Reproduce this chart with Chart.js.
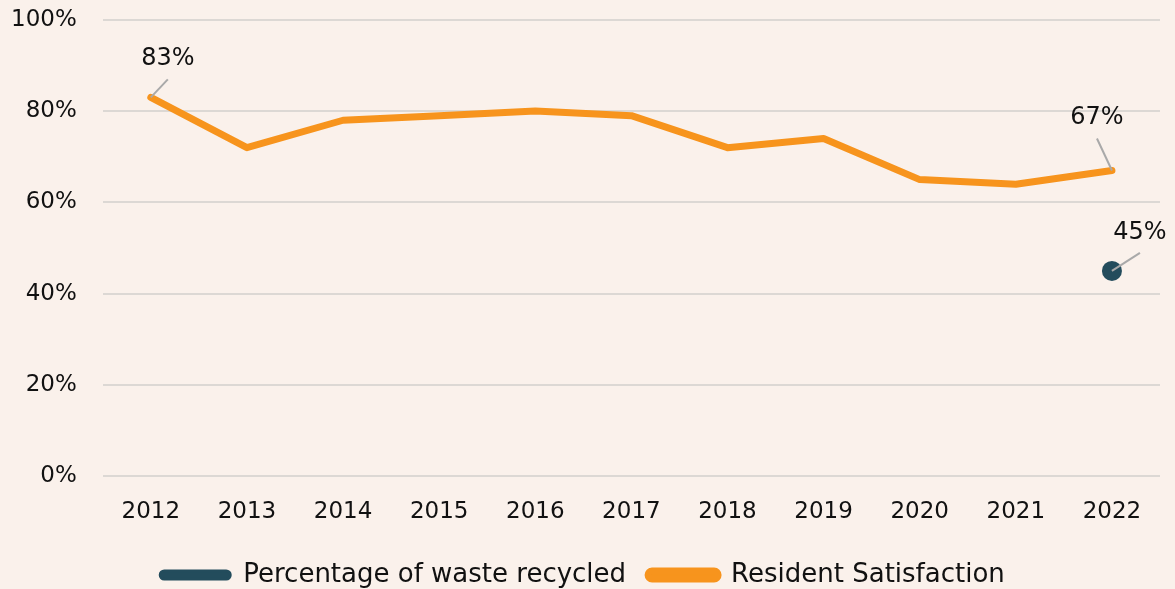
<!DOCTYPE html>
<html lang="en">
<head>
<meta charset="UTF-8">
<title>Resident Satisfaction and Recycling</title>
<style>
    html, body {
        margin: 0;
        padding: 0;
        background-color: #faf1eb;
    }
    .wrap {
        width: 1175px;
        height: 589px;
    }
</style>
</head>
<body>
<div class="wrap">
    <canvas id="chart" width="1175" height="589"></canvas>
</div>
<script src="https://cdn.jsdelivr.net/npm/chart.js"></script>
<script>
    const years = ['2012', '2013', '2014', '2015', '2016', '2017', '2018', '2019', '2020', '2021', '2022'];
    const recycled = [null, null, null, null, null, null, null, null, null, null, 45];
    const satisfaction = [83, 72, 78, 79, 80, 79, 72, 74, 65, 64, 67];
    const yTicks = [0, 20, 40, 60, 80, 100];

    const FONT = '"DejaVu Sans", sans-serif';

    // where to put a callout label: dataset index, point index, label offset
    const callouts = [
        { ds: 1, i: 0, dx: 17, dy: -39, lx: 17, ly: -18 },
        { ds: 1, i: 10, dx: -15, dy: -53, lx: -15, ly: -32 },
        { ds: 0, i: 10, dx: 28, dy: -38, lx: 28, ly: -18 }
    ];

    const calloutPlugin = {
        id: 'callouts',
        afterDatasetsDraw(chart) {
            const ctx = chart.ctx;
            ctx.save();
            callouts.forEach(c => {
                const pt = chart.getDatasetMeta(c.ds).data[c.i];
                const value = chart.data.datasets[c.ds].data[c.i];
                ctx.strokeStyle = '#a9a9a9';
                ctx.lineWidth = 2;
                ctx.beginPath();
                ctx.moveTo(pt.x, pt.y);
                ctx.lineTo(pt.x + c.lx, pt.y + c.ly);
                ctx.stroke();
                ctx.fillStyle = '#111';
                ctx.font = '24px ' + FONT;
                ctx.textAlign = 'center';
                ctx.textBaseline = 'middle';
                ctx.fillText(value + '%', pt.x + c.dx, pt.y + c.dy);
            });
            ctx.restore();
        }
    };

    new Chart(document.getElementById('chart'), {
        type: 'line',
        data: {
            labels: years,
            datasets: [{
                label: 'Percentage of waste recycled',
                data: recycled,
                borderColor: '#234c5c',
                backgroundColor: '#234c5c',
                pointRadius: 10,
                pointBackgroundColor: '#234c5c',
                pointBorderWidth: 0,
                showLine: false
            }, {
                label: 'Resident Satisfaction',
                data: satisfaction,
                borderColor: '#f7941d',
                backgroundColor: '#f7941d',
                borderWidth: 7,
                borderCapStyle: 'round',
                borderJoinStyle: 'round',
                pointRadius: 0,
                tension: 0
            }]
        },
        options: {
            responsive: false,
            animation: false,
            layout: { padding: { left: 5, right: 15, top: 2, bottom: -9 } },
            plugins: {
                tooltip: { enabled: false },
                legend: {
                    position: 'bottom',
                    labels: {
                        boxWidth: 70,
                        boxHeight: 8,
                        useBorderRadius: true,
                        borderRadius: 4,
                        padding: 22,
                        color: '#111',
                        font: { family: FONT, size: 26 }
                    }
                }
            },
            scales: {
                x: {
                    offset: true,
                    grid: { display: false },
                    border: { display: false },
                    ticks: {
                        color: '#111',
                        padding: 14,
                        font: { family: FONT, size: 23 }
                    }
                },
                y: {
                    min: 0,
                    max: 100,
                    afterBuildTicks(axis) {
                        axis.ticks = yTicks.map(v => ({ value: v }));
                    },
                    grid: {
                        color: '#dcd8d4',
                        lineWidth: 2,
                        drawTicks: true,
                        tickLength: 20,
                        tickColor: 'transparent'
                    },
                    border: { display: false },
                    ticks: {
                        color: '#111',
                        padding: 6,
                        font: { family: FONT, size: 23 },
                        callback: v => v + '%'
                    }
                }
            }
        },
        plugins: [calloutPlugin]
    });
</script>
</body>
</html>
